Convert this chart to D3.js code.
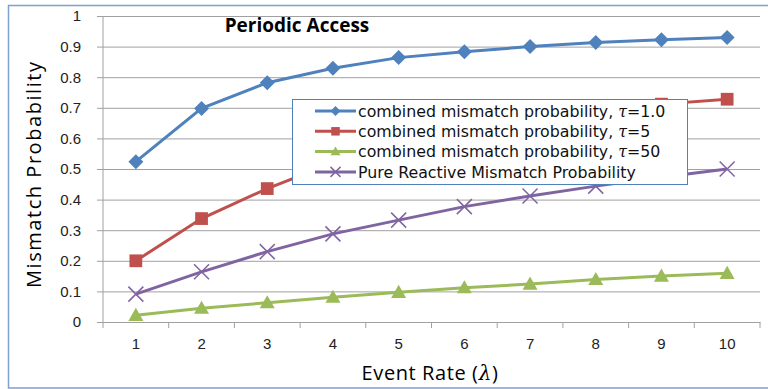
<!DOCTYPE html>
<html>
<head>
<meta charset="utf-8">
<script src="https://cdn.jsdelivr.net/npm/d3@7"></script>
<style>
  body { margin: 0; background: #fff; }
  svg { display: block; font-family: "Open Sans", sans-serif; }
</style>
</head>
<body>
<div id="chart"></div>
<script>
// Data
const rates = [1, 2, 3, 4, 5, 6, 7, 8, 9, 10];
const tau1 = [0.524, 0.698, 0.782, 0.829, 0.864, 0.883, 0.900, 0.913, 0.922, 0.930];
const tau5 = [0.200, 0.338, 0.436, 0.520, 0.580, 0.625, 0.660, 0.690, 0.712, 0.728];
const tau50 = [0.022, 0.045, 0.063, 0.081, 0.097, 0.112, 0.124, 0.139, 0.150, 0.159];
const pureReactive = [0.091, 0.164, 0.230, 0.288, 0.333, 0.377, 0.412, 0.444, 0.473, 0.500];
const yTicks = [0, 0.1, 0.2, 0.3, 0.4, 0.5, 0.6, 0.7, 0.8, 0.9, 1];

const series = [
  { pre: "combined mismatch probability, ", tau: "τ", post: "=1.0", values: tau1, color: "#4f81bd", marker: "diamond" },
  { pre: "combined mismatch probability, ", tau: "τ", post: "=5", values: tau5, color: "#c0504d", marker: "square" },
  { pre: "combined mismatch probability, ", tau: "τ", post: "=50", values: tau50, color: "#9bbb59", marker: "triangle" },
  { pre: "Pure Reactive Mismatch Probability", tau: "", post: "", values: pureReactive, color: "#8064a2", marker: "cross" }
];

const W = 768, H = 389;
const margin = { top: 16, right: 8, bottom: 67, left: 103 };
const width = W - margin.left - margin.right,
      height = H - margin.top - margin.bottom;

const svg = d3.select("#chart").append("svg")
  .attr("width", W).attr("height", H);

// outer frame
svg.append("rect")
  .attr("x", 8.5).attr("y", 5.5)
  .attr("width", 780).attr("height", 382.5)
  .attr("fill", "none").attr("stroke", "#7f9fcf").attr("stroke-width", 1.5);

const g = svg.append("g").attr("transform", `translate(${margin.left},${margin.top})`);

const x = d3.scaleBand().domain(rates).range([0, width]);
const y = d3.scaleLinear().domain([0, 1]).range([height, 0]);

// gridlines + y ticks
g.append("g")
  .call(d3.axisLeft(y).tickValues(yTicks).tickSize(-width - 6).tickSizeOuter(0)
    .tickFormat(d => d === 0 || d === 1 ? d3.format("d")(d) : d3.format(".1f")(d)))
  .call(a => a.select(".domain").remove())
  .call(a => a.selectAll(".tick line").attr("x1", -6).attr("x2", width).attr("stroke", "#a0a0a0"))
  .call(a => a.selectAll(".tick text").attr("x", -22).attr("fill", "#222")
    .style("font-size", "15px"));

// y axis line
g.append("line").attr("x1", 0).attr("x2", 0).attr("y1", 0).attr("y2", height)
  .attr("stroke", "#a0a0a0");

// x axis
g.append("g")
  .attr("transform", `translate(0,${height})`)
  .call(d3.axisBottom(x).tickSize(0).tickSizeOuter(0))
  .call(a => a.select(".domain").attr("stroke", "#a0a0a0"))
  .call(a => a.selectAll(".tick text").attr("dy", "1.1em").attr("y", 10).attr("fill", "#222")
    .style("font-size", "15px"));

// x boundary ticks
g.append("g").selectAll("line")
  .data(rates.concat([null]))
  .join("line")
  .attr("x1", (d, i) => i < rates.length ? x(d) : x(rates[rates.length - 1]) + x.bandwidth())
  .attr("x2", (d, i) => i < rates.length ? x(d) : x(rates[rates.length - 1]) + x.bandwidth())
  .attr("y1", height).attr("y2", height + 6)
  .attr("stroke", "#a0a0a0");

const cx = d => x(d) + x.bandwidth() / 2;

function drawMarker(sel, type, color, s) {
  if (type === "diamond") {
    sel.append("path").attr("d", `M0,${-s}L${s},0L0,${s}L${-s},0Z`).attr("fill", color);
  } else if (type === "square") {
    sel.append("rect").attr("x", -s * 0.85).attr("y", -s * 0.85)
      .attr("width", s * 1.7).attr("height", s * 1.7).attr("fill", color);
  } else if (type === "triangle") {
    sel.append("path").attr("d", `M0,${-s}L${s},${s * 0.75}L${-s},${s * 0.75}Z`).attr("fill", color);
  } else {
    sel.append("path").attr("d", `M${-s},${-s}L${s},${s}M${-s},${s}L${s},${-s}`)
      .attr("stroke", color).attr("stroke-width", 1.5).attr("fill", "none");
  }
}

series.forEach(s => {
  g.append("path")
    .datum(s.values)
    .attr("fill", "none")
    .attr("stroke", s.color)
    .attr("stroke-width", 3)
    .attr("d", d3.line().x((d, i) => cx(rates[i])).y(d => y(d)));

  s.values.forEach((v, i) => {
    const m = g.append("g").attr("transform", `translate(${cx(rates[i])},${y(v)})`);
    drawMarker(m, s.marker, s.color, 7.5);
  });
});

// title
svg.append("text")
  .attr("x", 297).attr("y", 32)
  .attr("text-anchor", "middle")
  .style("font-size", "19px").style("font-weight", "bold")
  .text("Periodic Access");

// legend
const lg = svg.append("g");
lg.append("rect")
  .attr("x", 292.5).attr("y", 99.5).attr("width", 395).attr("height", 85)
  .attr("fill", "#fff").attr("stroke", "#4f81bd").attr("stroke-width", 1);

series.forEach((s, i) => {
  const yy = 111 + i * 20.3;
  lg.append("line").attr("x1", 315).attr("x2", 356).attr("y1", yy).attr("y2", yy)
    .attr("stroke", s.color).attr("stroke-width", 3);
  const m = lg.append("g").attr("transform", `translate(335.5,${yy})`);
  drawMarker(m, s.marker, s.color, 5);
  const t = lg.append("text").attr("x", 358).attr("y", yy).attr("dy", "0.36em")
    .style("font-family", "DejaVu Sans").style("font-size", "15.8px").attr("fill", "#111");
  t.append("tspan").text(s.pre);
  if (s.tau) {
    t.append("tspan").style("font-style", "italic").style("font-family", "DejaVu Serif").text(s.tau);
    t.append("tspan").text(s.post);
  }
});

// axis titles
svg.append("text")
  .attr("transform", "translate(41,175) rotate(-90)")
  .attr("text-anchor", "middle")
  .attr("textLength", 226).attr("lengthAdjust", "spacing")
  .style("font-size", "20px")
  .text("Mismatch Probability");

const xt = svg.append("text")
  .attr("x", 430).attr("y", 380)
  .attr("text-anchor", "middle")
  .style("font-size", "20px").style("letter-spacing", "0.6px");
xt.append("tspan").text("Event Rate (");
xt.append("tspan").style("font-style", "italic").style("font-family", "DejaVu Serif").text("λ");
xt.append("tspan").text(")");
</script>
</body>
</html>
